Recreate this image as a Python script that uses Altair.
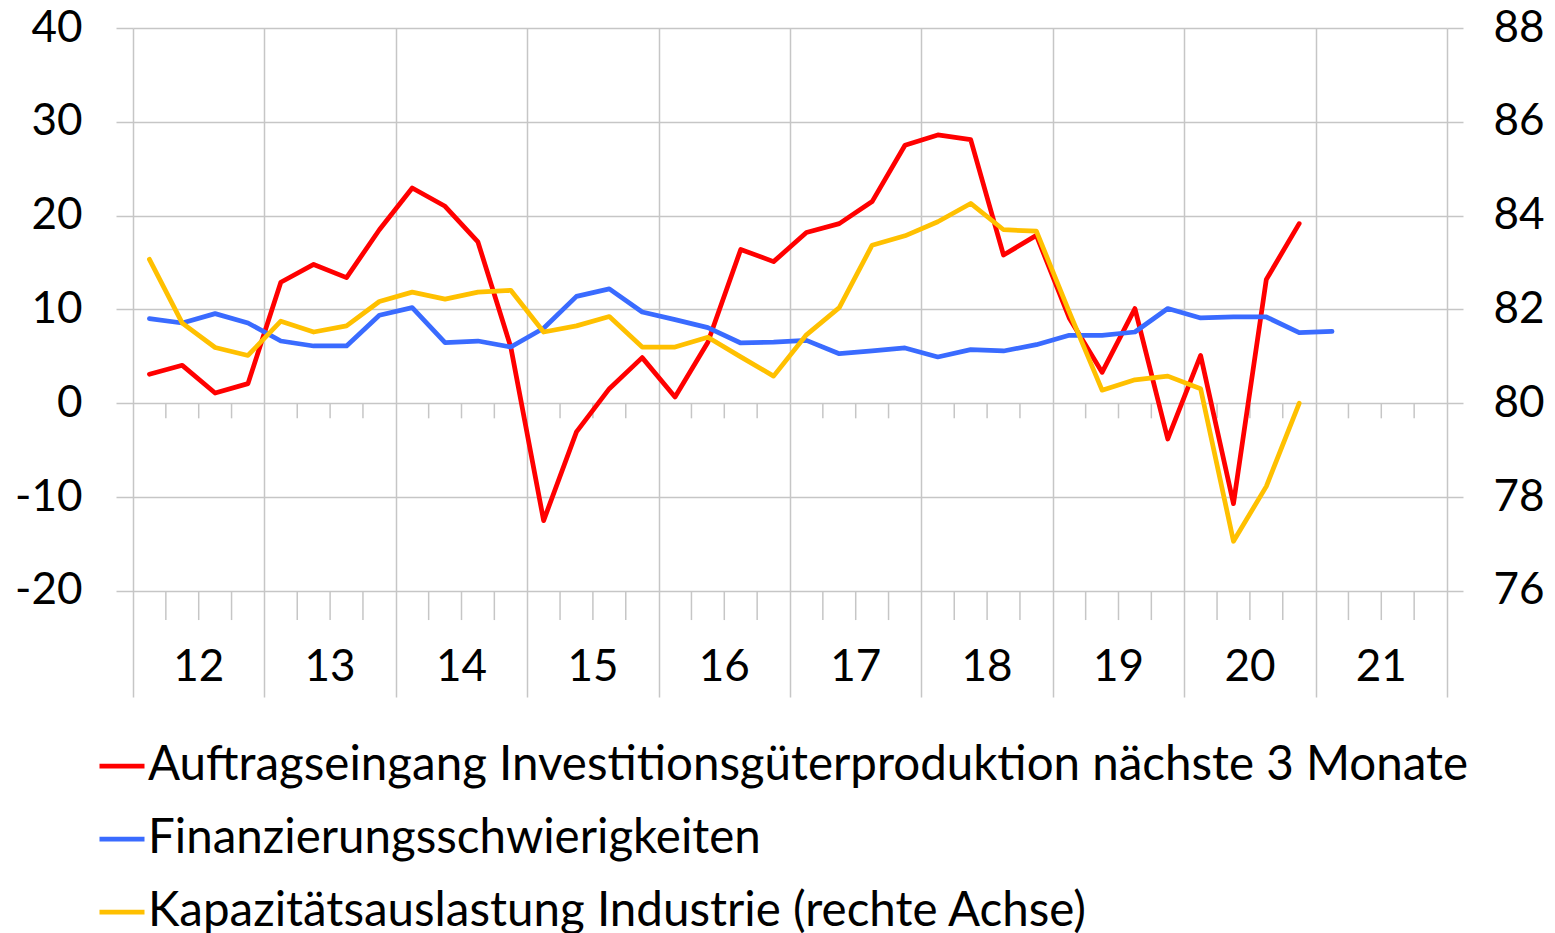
import altair as alt
import pandas as pd

FONT = "Lato"
GRID = "#C6C6C6"

S1 = "Auftragseingang Investitionsgüterproduktion nächste 3 Monate"
S2 = "Finanzierungsschwierigkeiten"
S3 = "Kapazitätsauslastung Industrie (rechte Achse)"

years = list(range(2012, 2022))
year_labels = ["12", "13", "14", "15", "16", "17", "18", "19", "20", "21"]
quarters = [(y, q) for y in years for q in range(1, 5)]

red_vals = [3.1, 4.05, 1.1, 2.1, 12.9, 14.8, 13.4, 18.5, 22.95, 21.0, 17.2, 6.0,
            -12.5, -3.05, 1.56, 4.87, 0.67, 6.5, 16.4, 15.1, 18.2, 19.15, 21.5, 27.5,
            28.6, 28.1, 15.8, 17.9, 9.1, 3.3, 10.1, -3.8, 5.1, -10.7, 13.2, 19.15]
blue_vals = [9.03, 8.56, 9.56, 8.56, 6.64, 6.11, 6.11, 9.38, 10.2, 6.47, 6.64, 6.0,
             8.0, 11.4, 12.2, 9.73, 8.92, 8.07, 6.43, 6.53, 6.71, 5.29, 5.58, 5.9,
             4.94, 5.72, 5.58, 6.25, 7.25, 7.25, 7.6, 10.1, 9.1, 9.2, 9.2, 7.53, 7.67]
yellow_vals = [83.07, 81.71, 81.19, 81.02, 81.75, 81.52, 81.65, 82.17, 82.37, 82.22, 82.37, 82.41,
               81.52, 81.65, 81.85, 81.2, 81.2, 81.41, 80.99, 80.58, 81.46, 82.04, 83.37, 83.57,
               83.87, 84.26, 83.7, 83.67, 81.95, 80.28, 80.5, 80.58, 80.31, 77.06, 78.23, 80.0]

left_ticks = [-20, -10, 0, 10, 20, 30, 40]
right_ticks = [76, 78, 80, 82, 84, 86, 88]


def qpos(y, q):
    return y + (q - 0.5) / 4


rows = []
for name, vals in [(S1, red_vals), (S2, blue_vals)]:
    for (y, q), v in zip(quarters, vals):
        rows.append({"t": qpos(y, q), "v": v, "series": name})
df_left = pd.DataFrame(rows)
df_right = pd.DataFrame([{"t": qpos(y, q), "v": v, "series": S3}
                         for (y, q), v in zip(quarters, yellow_vals)])

# minor quarter ticks below the 0 line and the -20 line
tick_rows = []
for y in years:
    for k in (1, 2, 3):
        tick_rows.append({"t": y + k / 4, "v": 0, "v2": -1.6})
        tick_rows.append({"t": y + k / 4, "v": -20, "v2": -23.1})
df_ticks = pd.DataFrame(tick_rows)

df_years = pd.DataFrame({"t": [y + 0.5 for y in years], "v": [-28.2] * len(years),
                         "label": year_labels})

LDOM = [-31.3, 40]
RDOM = [80 + LDOM[0] / 5, 88]

x_enc = alt.X("t:Q", scale=alt.Scale(domain=[2012, 2022], nice=False, zero=False),
              axis=alt.Axis(values=list(range(2012, 2023)), grid=True, gridColor=GRID,
                            gridWidth=1.5, labels=False, ticks=False, domain=False,
                            title=None))
yl_scale = alt.Scale(domain=LDOM, nice=False, zero=False)
yl_axis = alt.Axis(values=left_ticks, grid=True, gridColor=GRID, gridWidth=1.5,
                   tickSize=17, tickColor=GRID, tickWidth=1.5, domain=False,
                   labelPadding=34, title=None, labelExpr="'' + datum.value")

color = alt.Color("series:N",
                  scale=alt.Scale(domain=[S1, S2, S3],
                                  range=["#FF0000", "#3A6BFF", "#FFC000"]),
                  legend=alt.Legend(orient="none", legendX=-36, legendY=713,
                                    direction="vertical", title=None,
                                    symbolType="stroke", symbolStrokeWidth=4.75,
                                    symbolSize=2025, labelFontSize=47.5,
                                    labelFont=FONT, labelLimit=0, labelOffset=1,
                                    rowPadding=24, labelColor="#000000"))

ticks = alt.Chart(df_ticks).mark_rule(color=GRID, strokeWidth=1.5).encode(
    x=x_enc, y=alt.Y("v:Q", scale=yl_scale, axis=yl_axis), y2="v2:Q")

year_text = alt.Chart(df_years).mark_text(font=FONT, fontSize=44, color="#000000",
                                          baseline="middle", align="center").encode(
    x=x_enc, y=alt.Y("v:Q", scale=yl_scale, axis=yl_axis), text="label:N")

lines_left = alt.Chart(df_left).mark_line(strokeWidth=4.75, strokeJoin="round",
                                          strokeCap="round").encode(
    x=x_enc, y=alt.Y("v:Q", scale=yl_scale, axis=yl_axis), color=color)

left = alt.layer(ticks, year_text, lines_left)

right = alt.Chart(df_right).mark_line(strokeWidth=4.75, strokeJoin="round",
                                      strokeCap="round").encode(
    x=x_enc,
    y=alt.Y("v:Q", scale=alt.Scale(domain=RDOM, nice=False, zero=False),
            axis=alt.Axis(orient="right", values=right_ticks, grid=False,
                          tickSize=16, tickColor=GRID, tickWidth=1.5,
                          domain=False, labelPadding=30, title=None)),
    color=color)

chart = alt.layer(left, right).resolve_scale(y="independent").properties(
    width=1314, height=669,
    autosize=alt.AutoSizeParams(type="none"),
    padding={"left": 125, "top": 20, "right": 100, "bottom": 240},
).configure_view(stroke=None).configure_axis(
    labelFont=FONT, labelFontSize=44, labelColor="#000000"
)

chart.save("out.html", embed_options={"renderer": "svg", "actions": False})
